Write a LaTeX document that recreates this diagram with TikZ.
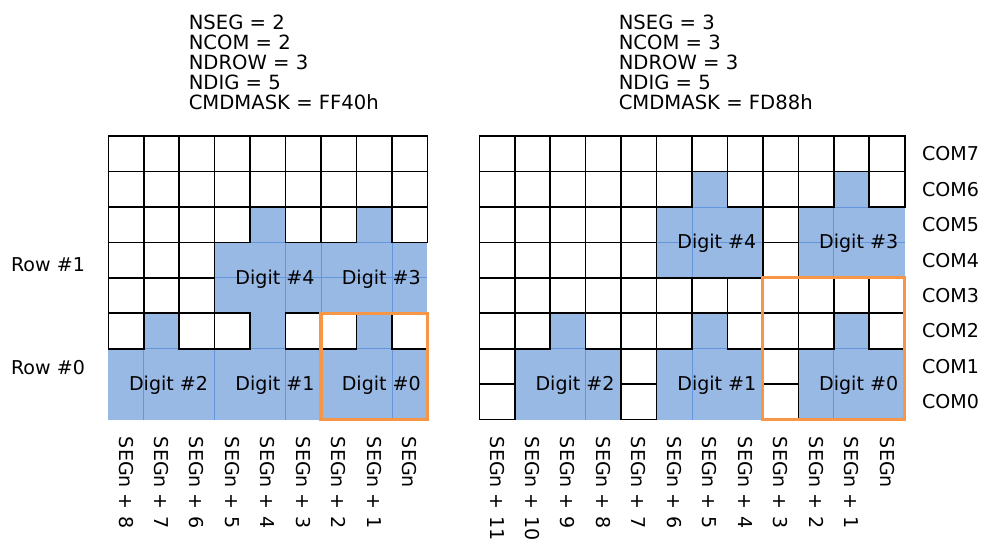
\documentclass[tikz,border=0pt]{standalone}
\usepackage{fontspec}
\setmainfont{DejaVu Sans}

\definecolor{segblue}{RGB}{153,185,229}
\definecolor{segedge}{RGB}{100,150,222}
\definecolor{boxorange}{RGB}{247,150,70}

\tikzset{
  cell/.style={draw=black, line width=1.2pt},
  inner line/.style={draw=segedge, line width=0.6pt},
  digit frame/.style={draw=boxorange, line width=2.3pt},
  txt/.style={inner sep=0pt, font=\fontsize{14.3}{15}\selectfont},
  cfg/.style={txt, font=\fontsize{14.7}{15}\selectfont, anchor=north west, align=left},
  seg label/.style={txt, rotate=-90, anchor=west},
}

% lit cells per COM row (row 0 = COM7)
\def\leftmap{0/{0,0,0,0,0,0,0,0,0}, 1/{0,0,0,0,0,0,0,0,0},
  2/{0,0,0,0,1,0,0,1,0}, 3/{0,0,0,1,1,1,1,1,1}, 4/{0,0,0,1,1,1,1,1,1},
  5/{0,1,0,0,1,0,0,1,0}, 6/{1,1,1,1,1,1,1,1,1}, 7/{1,1,1,1,1,1,1,1,1}}
\def\rightmap{0/{0,0,0,0,0,0,0,0,0,0,0,0}, 1/{0,0,0,0,0,0,1,0,0,0,1,0},
  2/{0,0,0,0,0,1,1,1,0,1,1,1}, 3/{0,0,0,0,0,1,1,1,0,1,1,1},
  4/{0,0,0,0,0,0,0,0,0,0,0,0}, 5/{0,0,1,0,0,0,1,0,0,0,1,0},
  6/{0,1,1,1,0,1,1,1,0,1,1,1}, 7/{0,1,1,1,0,1,1,1,0,1,1,1}}

\begin{document}
\begin{tikzpicture}[x=0.75pt, y=-0.75pt]
\useasboundingbox (0,0) rectangle (985,544);

% Register settings
\node[cfg] (cfgL) at (188.5,15)
  {NSEG = 2\\NCOM = 2\\NDROW = 3\\NDIG = 5\\CMDMASK = FF40h};
\node[cfg] (cfgR) at (618.5,15)
  {NSEG = 3\\NCOM = 3\\NDROW = 3\\NDIG = 5\\CMDMASK = FD88h};

% Left panel
\begin{scope}[shift={(108.3,136)}, x=26.59pt, y=-26.59pt]
  \foreach \row/\pat in \leftmap
    \foreach \v [count=\col from 0] in \pat
      {\ifnum\v=1 \fill[segblue] (\col,\row) rectangle ++(1,1);\fi}
  \draw[inner line] (3,3) -- (9,3) (3,4) -- (9,4) (5,3) -- (5,5) (6,3) -- (6,5)
    (8,3) -- (8,5) (0,6) -- (9,6) (1,6) -- (1,8) (3,6) -- (3,8) (5,6) -- (5,8)
    (6,6) -- (6,8) (8,6) -- (8,8);
  \foreach \row/\pat in \leftmap
    \foreach \v [count=\col from 0] in \pat
      {\ifnum\v=0 \draw[cell] (\col,\row) rectangle ++(1,1);\fi}
  \draw[digit frame] (6,5) rectangle (9,8);

  \node[txt, anchor=base] (digL4) at (4.7,4.18) {Digit \#4};
  \node[txt, anchor=base] (digL3) at (7.7,4.18) {Digit \#3};
  \node[txt, anchor=base] (digL2) at (1.7,7.18) {Digit \#2};
  \node[txt, anchor=base] (digL1) at (4.7,7.18) {Digit \#1};
  \node[txt, anchor=base] (digL0) at (7.7,7.18) {Digit \#0};

  \node[txt, anchor=west] (row1) at (-2.75,3.63) {Row \#1};
  \node[txt, anchor=west] (row0) at (-2.75,6.54) {Row \#0};

  \foreach \col in {0,...,8} {
    \pgfmathtruncatemacro\off{8-\col}
    \ifnum\off=0
      \node[seg label] (segL\col) at (\col+0.5,8.48) {SEGn};
    \else
      \node[seg label] (segL\col) at (\col+0.5,8.48) {SEGn + \off};
    \fi
  }
\end{scope}

% Right panel
\begin{scope}[shift={(479.3,136)}, x=26.59pt, y=-26.59pt]
  \foreach \row/\pat in \rightmap
    \foreach \v [count=\col from 0] in \pat
      {\ifnum\v=1 \fill[segblue] (\col,\row) rectangle ++(1,1);\fi}
  \draw[inner line] (5,2) -- (8,2) (9,2) -- (12,2) (5,3) -- (8,3) (9,3) -- (12,3)
    (6,2) -- (6,4) (10,2) -- (10,4) (1,6) -- (4,6) (5,6) -- (8,6) (9,6) -- (12,6)
    (3,6) -- (3,8) (6,6) -- (6,8) (10,6) -- (10,8);
  \foreach \row/\pat in \rightmap
    \foreach \v [count=\col from 0] in \pat
      {\ifnum\v=0 \draw[cell] (\col,\row) rectangle ++(1,1);\fi}
  \draw[digit frame] (8,4) rectangle (12,8);

  \node[txt, anchor=base] (digR4) at (6.7,3.18) {Digit \#4};
  \node[txt, anchor=base] (digR3) at (10.7,3.18) {Digit \#3};
  \node[txt, anchor=base] (digR2) at (2.7,7.18) {Digit \#2};
  \node[txt, anchor=base] (digR1) at (6.7,7.18) {Digit \#1};
  \node[txt, anchor=base] (digR0) at (10.7,7.18) {Digit \#0};

  \foreach \row in {0,...,7} {
    \pgfmathtruncatemacro\com{7-\row}
    \node[txt, anchor=west] (com\com) at (12.48,\row+0.5) {COM\com};
  }

  \foreach \col in {0,...,11} {
    \pgfmathtruncatemacro\off{11-\col}
    \ifnum\off=0
      \node[seg label] (segR\col) at (\col+0.5,8.48) {SEGn};
    \else
      \node[seg label] (segR\col) at (\col+0.5,8.48) {SEGn + \off};
    \fi
  }
\end{scope}
\end{tikzpicture}
\end{document}
